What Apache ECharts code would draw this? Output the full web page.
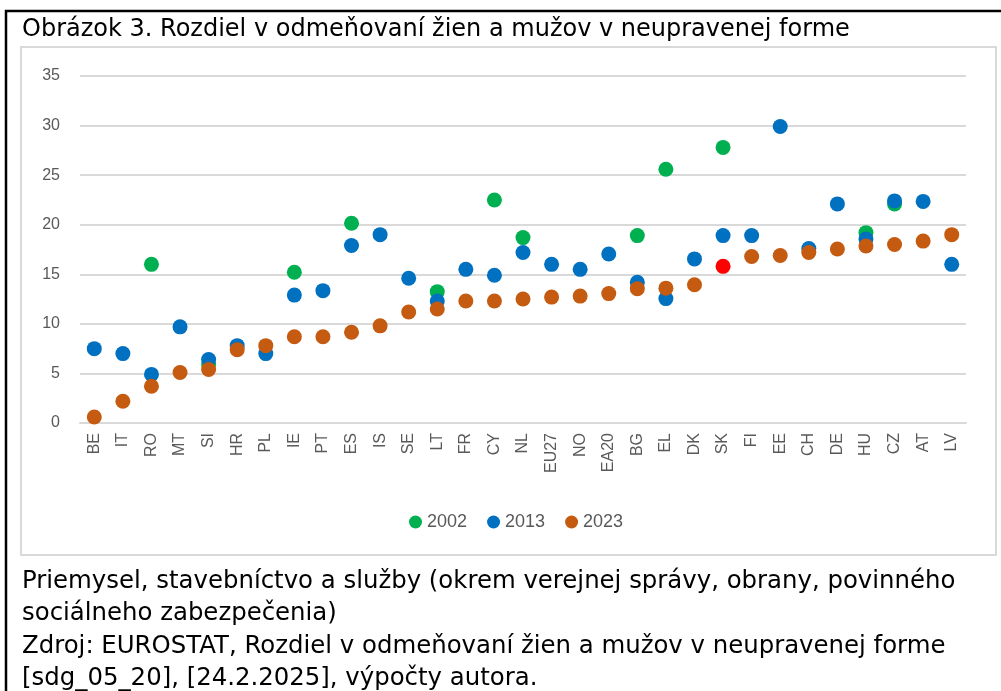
<!DOCTYPE html>
<html>
<head>
<meta charset="utf-8">
<script src="https://cdn.jsdelivr.net/npm/echarts@6/dist/echarts.min.js"></script>
<style>
html,body{margin:0;padding:0;background:#fff;}
#c{width:1001px;height:691px;}
</style>
</head>
<body>
<div id="c"></div>
<script>
const categories = ['BE','IT','RO','MT','SI','HR','PL','IE','PT','ES','IS','SE','LT','FR','CY','NL','EU27','NO','EA20','BG','EL','DK','SK','FI','EE','CH','DE','HU','CZ','AT','LV'];
const v2002 = [null,null,16.0,null,5.9,null,null,15.2,null,20.15,null,null,13.25,null,22.5,18.7,null,null,null,18.9,25.6,null,27.8,null,null,null,null,19.2,22.1,null,null];
const v2013 = [7.5,7.0,4.9,9.7,6.4,7.8,7.0,12.9,13.35,17.9,19.0,14.6,12.3,15.5,14.9,17.2,16.0,15.5,17.05,14.2,12.55,16.55,18.9,18.9,29.9,17.6,22.1,18.55,22.4,22.35,16.0];
const v2023 = [0.6,2.2,3.7,5.1,5.4,7.4,7.8,8.7,8.7,9.15,9.8,11.2,11.5,12.3,12.3,12.5,12.7,12.8,13.05,13.55,13.6,13.95,15.8,16.8,16.9,17.2,17.55,17.85,18.0,18.35,19.0];
const yTicks = [0,5,10,15,20,25,30,35];
const seriesNames = ['2002','2013','2023'];
const titleText = 'Obrázok 3. Rozdiel v odmeňovaní žien a mužov v neupravenej forme';
const noteLines = [
  'Priemysel, stavebníctvo a služby (okrem verejnej správy, obrany, povinného',
  'sociálneho zabezpečenia)',
  'Zdroj: EUROSTAT, Rozdiel v odmeňovaní žien a mužov v neupravenej forme',
  '[sdg_05_20], [24.2.2025], výpočty autora.'
];
const highlight = 'SK';
</script>
<script>
const chart = echarts.init(document.getElementById('c'), null, {renderer:'canvas'});
const colors = ['#00b050','#0070c0','#c55a11'];
function mk(arr, idx){
  return arr.map((v,i)=>{
    if (idx===2 && categories[i]===highlight) return {value:v, itemStyle:{color:'#ff0000'}};
    return v;
  });
}
const labelFont = '"Liberation Sans", Arial, sans-serif';
chart.setOption({
  animation:false,
  color: colors,
  grid:{left:80, right:35, top:76, bottom:268, containLabel:false},
  legend:{
    data: seriesNames, top:508, left:404, icon:'circle', itemWidth:13, itemHeight:13, itemGap:20,
    textStyle:{color:'#595959', fontSize:18, fontFamily:labelFont}
  },
  xAxis:{
    type:'category', data:categories, boundaryGap:true,
    axisLine:{lineStyle:{color:'#d9d9d9', width:2}},
    axisTick:{show:false},
    axisLabel:{rotate:90, color:'#595959', fontSize:16, fontFamily:labelFont, margin:10, interval:0}
  },
  yAxis:{
    type:'value', min:yTicks[0], max:yTicks[yTicks.length-1], interval:5,
    axisLine:{show:false}, axisTick:{show:false},
    axisLabel:{color:'#595959', fontSize:16, fontFamily:labelFont, margin:20},
    splitLine:{lineStyle:{color:'#d9d9d9', width:2}}
  },
  series:[
    {name:seriesNames[0], type:'scatter', data:mk(v2002,0), symbolSize:15, z:2, itemStyle:{opacity:1}},
    {name:seriesNames[1], type:'scatter', data:mk(v2013,1), symbolSize:15, z:3, itemStyle:{opacity:1}},
    {name:seriesNames[2], type:'scatter', data:mk(v2023,2), symbolSize:15, z:4, itemStyle:{opacity:1}}
  ],
  graphic:[
    {type:'rect', shape:{x:6, y:11, width:1100, height:800}, style:{fill:'none', stroke:'#000', lineWidth:2.5}, z:0},
    {type:'rect', shape:{x:21, y:47, width:975, height:508}, style:{fill:'none', stroke:'#d9d9d9', lineWidth:2}, z:0},
    {type:'text', left:22, top:18, style:{text:titleText, fill:'#000', font:'24px "DejaVu Sans", Verdana, sans-serif'}},
    {type:'text', left:22, top:565, style:{text:noteLines.join('\n'), fill:'#000', font:'24.4px "DejaVu Sans", Verdana, sans-serif', lineHeight:32.5}}
  ]
});
</script>
</body>
</html>
